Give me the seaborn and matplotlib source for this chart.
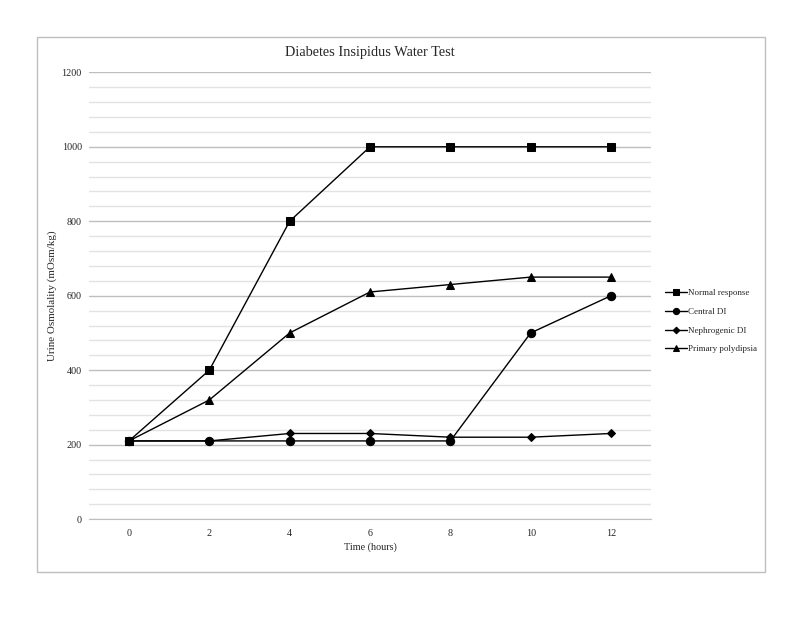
import matplotlib
matplotlib.use("Agg")
import matplotlib.pyplot as plt
import seaborn as sns
import pandas as pd
from matplotlib.patches import Rectangle

# data
hours = [0, 2, 4, 6, 8, 10, 12]
normal = [210, 400, 800, 1000, 1000, 1000, 1000]
central = [210, 210, 210, 210, 210, 500, 600]
nephro = [210, 210, 230, 230, 220, 220, 230]
primary = [210, 320, 500, 610, 630, 650, 650]
names = ["Normal response", "Central DI", "Nephrogenic DI", "Primary polydipsia"]
marks = ["s", "o", "D", "^"]
sizes = [6, 6, 4.5, 6]

sns.set_style("white")
plt.rcParams["font.family"] = ["Liberation Serif", "DejaVu Serif"]
txt = "#262626"

fig = plt.figure(figsize=(8, 6.18), dpi=100)
ax = fig.add_axes([0.111, 0.160, 0.703, 0.723])

for vals, name, m, s in zip([normal, central, nephro, primary], names, marks, sizes):
    df = pd.DataFrame({"Time": hours, "Osm": vals})
    sns.lineplot(data=df, x="Time", y="Osm", ax=ax, color="black", lw=1,
                 marker=m, markersize=s, markeredgecolor="black", label=name)

ax.set_xlim(-1, 13)
ax.set_ylim(0, 1200)
ax.set_xticks(hours)
ax.set_yticks(range(0, 1201, 200))
ax.set_yticks(range(0, 1201, 40), minor=True)
ax.grid(axis="y", which="major", color="#bfbfbf", lw=1)
ax.grid(axis="y", which="minor", color="#e3e3e3", lw=1)
ax.set_axisbelow(True)
for sp in ["left", "right", "top"]:
    ax.spines[sp].set_visible(False)
ax.spines["bottom"].set_color("#bfbfbf")
ax.tick_params(axis="both", which="both", length=0, labelsize=7.3, colors=txt)
ax.tick_params(axis="y", pad=5)
ax.tick_params(axis="x", pad=7)
ax.set_xlabel("Time (hours)", fontsize=7.3, color=txt, labelpad=3)
ax.set_ylabel("Urine Osmolality (mOsm/kg)", fontsize=7.9, color=txt, labelpad=3)
ax.set_title("Diabetes Insipidus Water Test", fontsize=10.3, color=txt, pad=12)

ax.legend(loc="center left", bbox_to_anchor=(1.01, 0.443), frameon=False,
          fontsize=6.5, handlelength=2.4, handletextpad=0.2, labelspacing=1.15,
          markerscale=0.75, labelcolor=txt)

fig.patches.append(Rectangle((37 / 800, 1 - 572 / 618), 728 / 800, 535 / 618,
                             transform=fig.transFigure, fill=False,
                             edgecolor="#bfbfbf", lw=1))

fig.savefig("out.png", dpi=100)
